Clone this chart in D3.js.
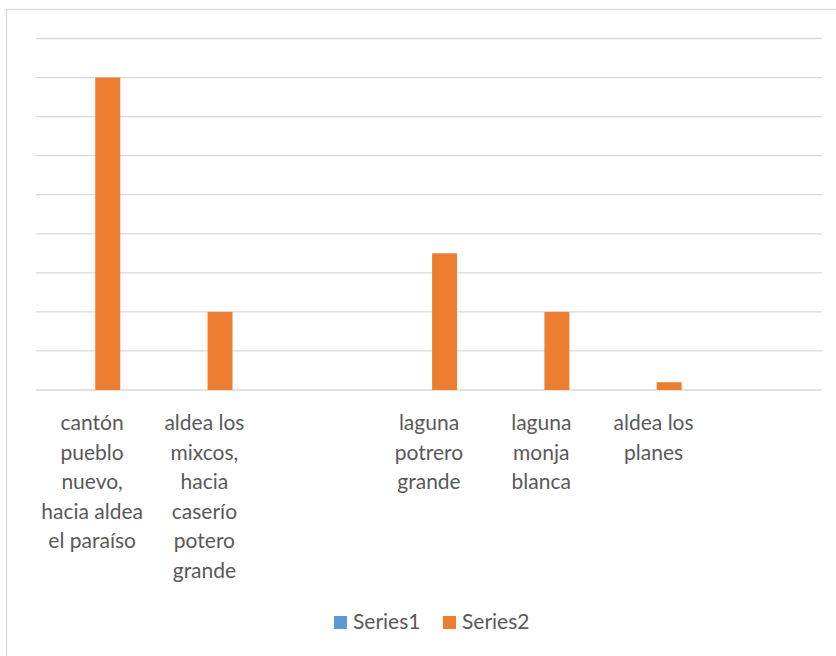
<!DOCTYPE html>
<html>
<head>
<meta charset="utf-8">
<script src="https://cdn.jsdelivr.net/npm/d3@7"></script>
<style>
  body { margin: 0; background: #fff; }
  text { font-family: Lato, "Liberation Sans", sans-serif; fill: #595959; }
</style>
</head>
<body>
<script>
// chart data
var categories = [
  "cantón pueblo nuevo, hacia aldea el paraíso",
  "aldea los mixcos, hacia caserío potero grande",
  "",
  "laguna potrero grande",
  "laguna monja blanca",
  "aldea los planes",
  ""
];
var seriesNames = ["Series1", "Series2"];
var series1 = [0, 0, 0, 0, 0, 0, 0];
var series2 = [8, 2, 0, 3.5, 2, 0.2, 0];
var yTicks = [0, 1, 2, 3, 4, 5, 6, 7, 8, 9];

var colors = ["#5B9BD5", "#ED7D31"];
var W = 836, H = 656;
// note: "top" clashes with window.top, so plot edges get a prefix
var plotL = 36, plotR = 822, plotT = 38.5, plotB = 390;
var fontSize = 21;

var svg = d3.select("body").append("svg")
  .attr("width", W)
  .attr("height", H);

// chart frame
svg.append("rect")
  .attr("x", 6.5).attr("y", 9.5)
  .attr("width", W).attr("height", H)
  .attr("fill", "none")
  .attr("stroke", "#D9D9D9")
  .attr("stroke-width", 1.3);

var x0 = d3.scaleBand()
  .domain(d3.range(categories.length))
  .range([plotL, plotR]);
var x1 = d3.scaleBand()
  .domain(seriesNames)
  .range([0, x0.bandwidth()])
  .paddingInner(0.2)
  .paddingOuter(0.9);
var y = d3.scaleLinear()
  .domain([0, 9])
  .range([plotB, plotT]);

// gridlines
svg.append("g").selectAll("line")
  .data(yTicks)
  .enter().append("line")
    .attr("x1", plotL).attr("x2", plotR)
    .attr("y1", d => y(d)).attr("y2", d => y(d))
    .attr("stroke", "#D9D9D9")
    .attr("stroke-width", 1.3);

var rows = categories.map((c, i) => ({ i: i, vals: [series1[i], series2[i]] }));

var groups = svg.append("g").selectAll("g")
  .data(rows)
  .enter().append("g")
    .attr("transform", d => "translate(" + x0(d.i) + ",0)");

groups.selectAll("rect")
  .data(d => d.vals.map((v, k) => ({ k: k, v: v })).filter(d => d.v > 0))
  .enter().append("rect")
    .attr("x", d => x1(seriesNames[d.k]))
    .attr("width", x1.bandwidth())
    .attr("y", d => y(d.v))
    .attr("height", d => y(0) - y(d.v))
    .attr("fill", d => colors[d.k]);

// category labels, wrapped to the band width
var maxW = x0.step() - 2;
var labels = svg.append("g").selectAll("text")
  .data(categories)
  .enter().append("text")
    .attr("text-anchor", "middle")
    .attr("font-size", fontSize)
    .attr("transform", (d, i) => "translate(" + (x0(i) + x0.bandwidth() / 2) + ",430)");

labels.each(function (d) {
  var t = d3.select(this);
  var words = d.split(" ").filter(w => w.length);
  var lines = [], cur = "";
  var probe = t.append("tspan");
  words.forEach(function (w) {
    var trial = cur ? cur + " " + w : w;
    probe.text(trial);
    if (cur && probe.node().getComputedTextLength() > maxW) {
      lines.push(cur);
      cur = w;
    } else {
      cur = trial;
    }
  });
  if (cur) lines.push(cur);
  probe.remove();
  lines.forEach(function (l, k) {
    t.append("tspan").attr("x", 0).attr("y", k * 29.5).text(l);
  });
});

// legend
var legend = svg.append("g");
var legX = [334, 443];
seriesNames.forEach(function (s, k) {
  legend.append("rect")
    .attr("x", legX[k]).attr("y", 616)
    .attr("width", 13).attr("height", 13)
    .attr("fill", colors[k]);
  legend.append("text")
    .attr("x", legX[k] + 19).attr("y", 629)
    .attr("font-size", fontSize)
    .text(s);
});
</script>
</body>
</html>
